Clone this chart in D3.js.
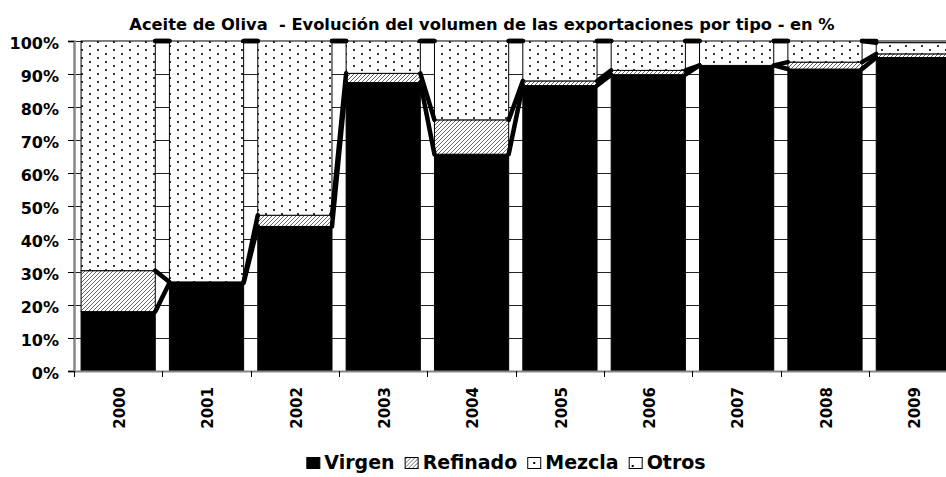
<!DOCTYPE html>
<html>
<head>
<meta charset="utf-8">
<script src="https://cdn.jsdelivr.net/npm/d3@7"></script>
<style>
body { margin: 0; background: #fff; }
svg text { font-family: "DejaVu Sans", sans-serif; font-weight: bold; fill: #000; white-space: pre; }
</style>
</head>
<body>
<svg id="chart"></svg>
<script>
'use strict';
//Data (share of export volume, %).
const years = ['2000', '2001', '2002', '2003', '2004', '2005', '2006', '2007', '2008', '2009'];
const virgen = [18.0, 26.7, 43.8, 87.4, 65.7, 86.5, 89.8, 92.6, 91.5, 95.0];
const refinado = [12.4, 0.3, 3.4, 2.8, 10.4, 1.4, 1.3, 0.0, 2.1, 1.1];
const mezcla = [69.6, 73.0, 52.8, 9.8, 23.9, 12.1, 8.9, 7.4, 6.4, 3.4];
const otros = [0, 0, 0, 0, 0, 0, 0, 0, 0, 0.5];
const seriesNames = ['Virgen', 'Refinado', 'Mezcla', 'Otros'];
const yTicks = [0, 10, 20, 30, 40, 50, 60, 70, 80, 90, 100];
const title = 'Aceite de Oliva  - Evolución del volumen de las exportaciones por tipo - en %';

const width = 946;
const height = 477;
const left = 74; //x of the value axis.
const step = 88.35; //Width of one category.
const yTop = 41;
const yBottom = 371;

const svg = d3.select('#chart').attr('width', width).attr('height', height);

//Fill patterns.
const defs = svg.append('defs');
const hatch = defs.append('pattern')
	.attr('id', 'hatch')
	.attr('patternUnits', 'userSpaceOnUse')
	.attr('width', 4)
	.attr('height', 4);
hatch.append('rect').attr('width', 4).attr('height', 4).attr('fill', '#fff');
hatch.append('path')
	.attr('d', 'M-1,1 l2,-2 M0,4 l4,-4 M3,5 l2,-2')
	.attr('stroke', '#666')
	.attr('stroke-width', 1);
const dots = defs.append('pattern')
	.attr('id', 'dots')
	.attr('patternUnits', 'userSpaceOnUse')
	.attr('width', 16)
	.attr('height', 8);
dots.append('rect').attr('width', 16).attr('height', 8).attr('fill', '#fff');
dots.append('rect').attr('x', 1).attr('y', 1).attr('width', 2).attr('height', 2).attr('fill', '#333');
dots.append('rect').attr('x', 9).attr('y', 5).attr('width', 2).attr('height', 2).attr('fill', '#333');
const fills = {Virgen: '#000', Refinado: 'url(#hatch)', Mezcla: 'url(#dots)', Otros: '#fff'};

//Scales.
const x = d3.scaleBand()
	.domain(years)
	.range([left, left + years.length * step])
	.paddingInner(0.16)
	.paddingOuter(0.08);
const y = d3.scaleLinear().domain([0, 100]).range([yBottom, yTop]);
const bw = x.bandwidth();

//Stack the series.
const table = years.map((yr, i) => ({
	year: yr,
	Virgen: virgen[i],
	Refinado: refinado[i],
	Mezcla: mezcla[i],
	Otros: otros[i]
}));
const stacked = d3.stack().keys(seriesNames)(table);

//Gridlines first so the bars cover them.
svg.append('g')
	.selectAll('line')
	.data(yTicks)
	.join('line')
	.attr('x1', left)
	.attr('x2', width)
	.attr('y1', d => Math.round(y(d)) + 0.5)
	.attr('y2', d => Math.round(y(d)) + 0.5)
	.attr('stroke', '#222')
	.attr('stroke-width', 1);

//Bars.
svg.append('g')
	.selectAll('g')
	.data(stacked)
	.join('g')
	.attr('fill', d => fills[d.key])
	.selectAll('rect')
	.data(d => d)
	.join('rect')
	.attr('x', d => x(d.data.year))
	.attr('y', d => y(d[1]))
	.attr('width', bw)
	.attr('height', d => y(d[0]) - y(d[1]))
	.attr('stroke', '#000')
	.attr('stroke-width', 1);

//Series lines joining the top of each series from one bar to the next.
const links = [];
stacked.forEach(layer => {
	for (let i = 0; i < layer.length - 1; i++) {
		links.push({a: layer[i], b: layer[i + 1]});
	}
});
svg.append('g')
	.selectAll('line')
	.data(links)
	.join('line')
	.attr('x1', d => x(d.a.data.year) + bw)
	.attr('y1', d => y(d.a[1]))
	.attr('x2', d => x(d.b.data.year))
	.attr('y2', d => y(d.b[1]))
	.attr('stroke', '#000')
	.attr('stroke-width', 4.5)
	.attr('stroke-linecap', 'round');

//Value axis.
const yAxis = svg.append('g')
	.attr('transform', `translate(${left},0)`)
	.call(d3.axisLeft(y).tickValues(yTicks).tickSize(6).tickPadding(9).tickFormat(d => d + '%'));
yAxis.select('.domain').attr('stroke', '#868686').attr('stroke-width', 2.5);
yAxis.selectAll('.tick line').attr('stroke', '#000');
yAxis.attr('font-family', null).attr('font-size', null);
yAxis.selectAll('.tick text')
	.attr('font-size', 16)
	.attr('dy', '0.47em');

//Category axis: line plus ticks between categories.
svg.append('line')
	.attr('x1', left)
	.attr('x2', width)
	.attr('y1', yBottom + 0.5)
	.attr('y2', yBottom + 0.5)
	.attr('stroke', '#868686')
	.attr('stroke-width', 2);
svg.append('g')
	.selectAll('line')
	.data(d3.range(years.length + 1))
	.join('line')
	.attr('x1', i => Math.round(left + i * x.step()) + 0.5)
	.attr('x2', i => Math.round(left + i * x.step()) + 0.5)
	.attr('y1', yBottom)
	.attr('y2', yBottom + 6)
	.attr('stroke', '#000');
svg.append('g')
	.selectAll('text')
	.data(years)
	.join('text')
	.attr('transform', d => `translate(${x(d) + bw / 2},${yBottom + 16}) rotate(-90)`)
	.attr('text-anchor', 'end')
	.attr('dy', '0.45em')
	.attr('font-size', 15)
	.text(d => d);

//Title.
svg.append('text')
	.attr('x', 482)
	.attr('y', 30)
	.attr('text-anchor', 'middle')
	.attr('font-size', 16.3)
	.text(title);

//Legend, laid out left to right and centred afterwards.
const legend = svg.append('g');
const sw = 13; //Swatch width.
const sh = 11; //Swatch height.
let lx = 0;
seriesNames.forEach(name => {
	const item = legend.append('g').attr('transform', `translate(${lx},0)`);
	item.append('rect')
		.attr('x', 0.5)
		.attr('y', -sh + 0.5)
		.attr('width', sw)
		.attr('height', sh)
		.attr('fill', name === 'Mezcla' || name === 'Otros' ? '#fff' : fills[name])
		.attr('stroke', '#000');
	if (name === 'Mezcla') {
		item.append('rect').attr('x', sw / 2 - 0.5).attr('y', -sh / 2 - 0.5).attr('width', 2).attr('height', 2).attr('fill', '#000');
	}
	if (name === 'Otros') {
		item.append('rect').attr('x', 3).attr('y', -3).attr('width', 2).attr('height', 2).attr('fill', '#000');
	}
	const t = item.append('text')
		.attr('x', sw + 5)
		.attr('y', 1)
		.attr('font-size', 19)
		.text(name);
	lx += sw + 5 + t.node().getComputedTextLength() + 10;
});
const legendW = lx - 10;
legend.attr('transform', `translate(${506 - legendW / 2},468)`);
</script>
</body>
</html>
